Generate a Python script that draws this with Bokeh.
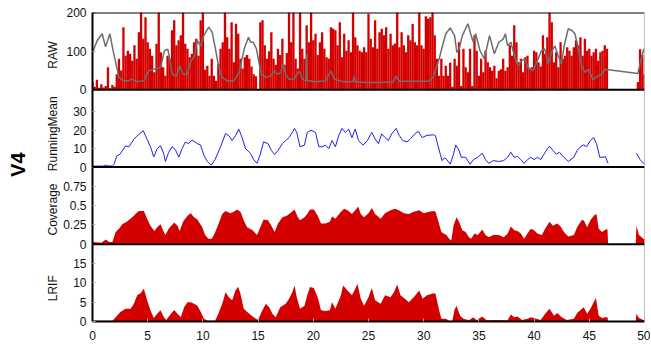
import numpy as np
from bokeh.plotting import figure
from bokeh.layouts import row
from bokeh.models import Range1d, FixedTicker, Span
from bokeh.embed import file_html
from bokeh.resources import INLINE
from bokeh.core.properties import value

FONT = "Liberation Sans"
RED = "#d40000"
GRAY = "#6e6e6e"
BLUE = "#1f1fee"

# ---------------- data ----------------
x_ticks = [0, 5, 10, 15, 20, 25, 30, 35, 40, 45, 50]
raw_ticks = [0, 100, 200]
rm_ticks = [0, 10, 20, 30]
cov_ticks = [0, 0.25, 0.5, 0.75]
cov_tick_labels = ["0", "0.25", "0.5", "0.75"]
lrif_ticks = [0, 5, 10, 15]
panel_names = ["RAW", "RunningMean", "Coverage", "LRIF"]
sample_name = "V4"

# RAW read counts, one bar every 0.2 from 0.0 to 46.6
raw_top = [
    20, 8, 26, 5, 14, 6, 10, 58, 4, 12,
    8, 40, 80, 50, 162, 88, 101, 93, 75, 115,
    80, 149, 200, 132, 188, 123, 106, 88, 45, 119,
    200, 97, 58, 36, 88, 80, 154, 180, 115, 128,
    141, 200, 119, 106, 84, 93, 123, 132, 88, 180,
    200, 52, 62, 36, 80, 36, 23, 67, 106, 123,
    200, 136, 106, 175, 71, 171, 145, 80, 55, 84,
    90, 80, 60, 40, 35, 0, 175, 180, 115, 80,
    100, 149, 80, 65, 106, 90, 132, 65, 95, 200,
    123, 200, 80, 55, 200, 106, 80, 167, 123, 200,
    128, 145, 90, 123, 149, 106, 84, 80, 162, 158,
    154, 115, 175, 84, 145, 101, 128, 97, 200, 136,
    115, 101, 97, 110, 97, 197, 132, 110, 180, 106,
    149, 158, 141, 162, 106, 145, 115, 120, 200, 110,
    149, 115, 97, 141, 128, 170, 123, 115, 200, 115,
    106, 190, 184, 188, 200, 141, 80, 36, 80, 36,
    62, 36, 70, 8, 80, 62, 123, 10, 106, 58,
    45, 106, 10, 141, 101, 36, 80, 45, 101, 71,
    58, 49, 62, 30, 49, 53, 80, 49, 58, 115,
    88, 167, 123, 71, 80, 45, 84, 88, 53, 58,
    101, 97, 71, 60, 141, 93, 136, 200, 175, 71,
    97, 58, 123, 80, 88, 110, 101, 88, 110, 128,
    115, 136, 88, 132, 101, 106, 88, 97, 106, 75,
    97, 101, 115, 106,
]
raw_tail_x = [49.4, 49.6, 49.8, 50.0]
raw_tail_top = [20, 105, 90, 40]

raw_mean_pts = [
    (0.0, 97), (0.42, 127), (0.88, 145), (1.18, 111), (1.57, 145), (1.87, 101),
    (2.17, 62), (2.39, 32), (2.84, 23), (3.3, 23), (3.5, 28), (4.05, 21),
    (4.65, 23), (5.1, 49), (5.55, 53), (6.16, 58), (6.52, 101), (6.82, 105),
    (7.0, 80), (7.22, 40), (7.6, 36), (7.9, 62), (8.2, 40), (8.57, 40),
    (8.88, 71), (9.24, 88), (9.48, 127), (9.78, 114), (10.08, 140), (10.53, 162),
    (10.84, 149), (11.14, 105), (11.44, 58), (11.74, 32), (12.2, 23), (12.8, 23),
    (13.28, 45), (13.74, 106), (14.13, 136), (14.33, 123), (14.55, 123), (14.85, 106),
    (15.1, 67), (15.3, 40), (15.7, 32), (16.15, 36), (16.45, 49), (16.75, 40),
    (17.05, 45), (17.27, 67), (17.5, 40), (17.8, 27), (18.26, 27), (18.72, 49),
    (19.02, 27), (19.35, 23), (19.4, 92), (19.45, 23), (19.62, 23), (20.2, 21),
    (21.1, 23), (21.6, 49), (21.9, 27), (22.7, 21), (23.6, 21), (23.7, 36),
    (23.8, 21), (24.8, 19), (25.8, 19), (27.2, 20), (27.5, 35), (27.8, 22),
    (28.5, 22), (30.5, 22), (30.9, 35), (31.1, 53), (31.4, 80), (31.7, 114),
    (32.0, 145), (32.4, 160), (32.8, 140), (33.0, 97), (33.2, 106), (33.5, 140),
    (34.0, 171), (34.3, 140), (34.5, 123), (34.7, 145), (35.1, 101), (35.5, 80),
    (35.96, 140), (36.4, 93), (36.8, 123), (37.2, 131), (37.4, 145), (37.6, 114),
    (37.9, 123), (38.25, 84), (38.55, 62), (38.85, 75), (39.15, 80), (39.46, 58),
    (39.9, 49), (40.36, 80), (40.67, 101), (40.97, 106), (41.27, 67), (41.58, 97),
    (41.88, 114), (42.18, 88), (42.48, 67), (42.7, 110), (43.09, 158), (43.4, 154),
    (43.7, 145), (44.0, 106), (44.3, 62), (44.6, 45), (44.9, 53), (45.35, 27),
    (45.8, 36), (46.1, 40), (46.4, 53), (49.4, 42), (49.7, 80), (49.95, 106),
]

running_mean_pts = [
    (0.0, 0.5), (1.0, 0.5), (1.2, 1.0), (1.4, 0.6), (1.8, 0.5), (1.95, 1.5),
    (2.2, 6), (2.5, 7), (2.99, 11.5), (3.3, 11), (3.75, 15.1), (4.2, 17.8),
    (4.6, 19.7), (4.95, 15), (5.25, 11), (5.55, 5.5), (5.86, 10), (6.16, 11.5),
    (6.46, 7), (6.6, 3), (6.9, 8), (7.2, 11), (7.5, 9.5), (7.82, 5.3),
    (8.12, 10), (8.4, 13.5), (8.7, 12.7), (9.0, 14.7), (9.5, 12.7), (9.78, 12),
    (10.08, 6.5), (10.4, 3), (10.75, 1), (11.1, 4), (11.6, 11), (12.05, 18.2),
    (12.35, 17), (12.65, 14.4), (12.95, 17), (13.25, 20.6), (13.55, 16), (13.86, 10),
    (14.3, 7.5), (14.6, 4), (14.9, 2), (15.2, 7), (15.5, 13.7), (15.9, 12.7),
    (16.2, 9), (16.5, 6.8), (16.8, 9), (17.2, 12.7), (17.5, 14.4), (17.8, 16),
    (18.1, 18.8), (18.3, 21), (18.5, 18.8), (18.8, 11), (19.2, 11.9), (19.45, 18.8),
    (19.8, 20), (20.2, 18.8), (20.5, 11), (20.8, 11), (21.1, 11.9), (21.4, 10),
    (21.7, 14.4), (22.0, 11), (22.3, 17), (22.6, 21), (22.9, 18.8), (23.2, 20.6),
    (23.5, 16), (23.8, 20.6), (24.1, 14.4), (24.5, 11.9), (24.9, 14.4), (25.3, 18.8),
    (25.6, 15.3), (25.9, 12.7), (26.2, 18), (26.5, 16), (26.8, 14.4), (27.1, 18),
    (27.5, 21), (27.8, 17), (28.1, 14.4), (28.5, 13.7), (28.8, 15.3), (29.2, 18),
    (29.5, 19.4), (29.86, 16), (30.3, 17.2), (30.9, 17.5), (31.07, 17), (31.2, 13.7),
    (31.5, 7), (31.67, 3.5), (31.9, 5), (32.1, 4), (32.4, 1.5), (32.7, 7),
    (32.9, 12), (33.2, 9), (33.4, 5.3), (33.8, 5.3), (34.2, 1.5), (34.5, 4),
    (34.9, 5.3), (35.3, 7.5), (35.6, 4), (35.9, 2), (36.3, 3.5), (36.8, 3),
    (37.25, 3.5), (37.6, 5.3), (37.9, 8), (38.2, 5.3), (38.5, 5.7), (38.8, 4),
    (39.1, 2), (39.4, 4), (39.7, 5.3), (40.0, 4), (40.3, 5.3), (40.6, 4),
    (41.0, 8), (41.4, 11.3), (41.7, 9), (42.0, 7), (42.3, 8), (42.7, 5.3),
    (43.1, 3), (43.6, 5.3), (43.9, 9), (44.2, 11), (44.5, 12), (44.75, 11),
    (45.1, 14.4), (45.4, 16), (45.65, 12.7), (45.95, 5.3), (46.25, 5.3), (46.46, 5.7),
    (46.7, 2),
]
running_mean_tail = [(49.27, 7.5), (49.6, 4), (50.0, 1.5)]

coverage_pts = [
    (0.0, 0.03), (0.8, 0.02), (1.2, 0.06), (1.5, 0.03), (1.8, 0.03), (2.1, 0.16),
    (2.4, 0.2), (2.7, 0.26), (3.1, 0.29), (3.6, 0.35), (3.9, 0.39), (4.2, 0.43),
    (4.65, 0.43), (4.95, 0.33), (5.25, 0.24), (5.6, 0.17), (5.86, 0.22), (6.16, 0.26),
    (6.46, 0.16), (6.6, 0.12), (6.9, 0.2), (7.4, 0.28), (7.7, 0.24), (7.9, 0.17),
    (8.2, 0.29), (8.6, 0.37), (8.9, 0.4), (9.2, 0.35), (9.5, 0.32), (9.94, 0.22),
    (10.2, 0.12), (10.5, 0.07), (10.8, 0.07), (11.0, 0.12), (11.3, 0.22), (11.75, 0.39),
    (12.05, 0.43), (12.5, 0.4), (12.8, 0.42), (13.1, 0.45), (13.4, 0.42), (13.7, 0.31),
    (14.0, 0.22), (14.5, 0.18), (14.9, 0.12), (15.2, 0.22), (15.5, 0.32), (15.9, 0.31),
    (16.2, 0.24), (16.5, 0.16), (16.8, 0.27), (17.2, 0.35), (17.6, 0.37), (17.9, 0.4),
    (18.3, 0.45), (18.6, 0.35), (18.8, 0.31), (19.2, 0.35), (19.45, 0.39), (19.7, 0.45),
    (20.05, 0.45), (20.4, 0.37), (20.7, 0.27), (21.1, 0.27), (21.5, 0.29), (21.7, 0.36),
    (22.0, 0.33), (22.5, 0.42), (22.8, 0.46), (23.1, 0.44), (23.5, 0.39), (23.8, 0.44),
    (24.06, 0.49), (24.3, 0.39), (24.6, 0.35), (25.0, 0.4), (25.3, 0.47), (25.6, 0.39),
    (26.1, 0.33), (26.5, 0.4), (27.0, 0.44), (27.4, 0.46), (27.75, 0.44), (28.2, 0.4),
    (28.65, 0.39), (29.1, 0.42), (29.6, 0.44), (30.0, 0.4), (30.5, 0.42), (30.9, 0.43),
    (31.07, 0.42), (31.3, 0.31), (31.6, 0.16), (31.8, 0.14), (32.06, 0.12), (32.3, 0.07),
    (32.5, 0.05), (32.7, 0.24), (32.97, 0.35), (33.2, 0.29), (33.5, 0.18), (33.8, 0.16),
    (34.1, 0.09), (34.3, 0.07), (34.6, 0.14), (34.9, 0.12), (35.3, 0.19), (35.6, 0.12),
    (35.9, 0.09), (36.3, 0.12), (36.8, 0.12), (37.25, 0.09), (37.6, 0.14), (37.9, 0.23),
    (38.2, 0.18), (38.5, 0.17), (38.8, 0.14), (39.1, 0.07), (39.4, 0.14), (39.7, 0.2),
    (40.0, 0.18), (40.3, 0.14), (40.7, 0.12), (41.0, 0.2), (41.4, 0.29), (41.7, 0.24),
    (42.1, 0.27), (42.4, 0.23), (42.7, 0.16), (43.1, 0.1), (43.6, 0.12), (43.9, 0.22),
    (44.3, 0.31), (44.5, 0.31), (44.8, 0.22), (45.1, 0.31), (45.4, 0.37), (45.65, 0.39),
    (45.85, 0.2), (46.16, 0.16), (46.46, 0.19), (46.65, 0.19), (46.7, 0.0),
    (49.2, 0.0), (49.27, 0.24), (49.5, 0.12), (49.9, 0.07), (50.0, 0.06),
]

lrif_pts = [
    (0.0, 0.2), (1.8, 0.2), (2.1, 1.1), (2.5, 2.4), (2.99, 3.3), (3.45, 3.3),
    (3.75, 4.6), (4.05, 6.8), (4.35, 7.3), (4.65, 8.5), (4.95, 5.5), (5.25, 2.9),
    (5.55, 0.9), (5.86, 2), (6.16, 2.9), (6.46, 1.1), (6.67, 0.4), (7.06, 1.8),
    (7.4, 3), (7.7, 2), (8.0, 1.1), (8.3, 3.7), (8.6, 5), (8.9, 5),
    (9.2, 4.6), (9.5, 4.1), (9.8, 2.5), (10.1, 0.7), (10.4, 0.2), (11.1, 0.2),
    (11.4, 2), (11.75, 4.6), (12.05, 7.6), (12.35, 6.3), (12.65, 5.5), (12.95, 8),
    (13.2, 9), (13.4, 7.2), (13.7, 3.3), (14.2, 2), (14.6, 1.1), (15.0, 0.4),
    (15.3, 2.4), (15.7, 4.6), (16.0, 3.7), (16.3, 2), (16.6, 1.1), (17.0, 3.7),
    (17.5, 4.6), (17.8, 5.9), (18.1, 7.6), (18.3, 9.3), (18.5, 6.3), (18.8, 3.3),
    (19.2, 4.1), (19.45, 6.8), (19.7, 8.9), (20.05, 8.7), (20.4, 6.3), (20.7, 2.9),
    (21.1, 2.7), (21.5, 2.9), (21.7, 5), (22.0, 3.3), (22.5, 6.8), (22.7, 9.3),
    (23.1, 8), (23.5, 6.8), (23.8, 8.5), (24.0, 9.8), (24.3, 5.9), (24.6, 4.1),
    (25.0, 6.3), (25.3, 8.7), (25.6, 5.5), (26.1, 4.6), (26.5, 6.8), (27.0, 6.3),
    (27.3, 7.6), (27.6, 9.6), (27.9, 6.8), (28.3, 5.9), (28.65, 5), (29.1, 6.3),
    (29.6, 8), (29.9, 5.9), (30.3, 6.8), (30.9, 7.3), (31.07, 7.2), (31.4, 2.9),
    (31.6, 0.7), (32.0, 0.7), (32.3, 0.2), (32.6, 0.2), (32.78, 2.9), (32.97, 4.1),
    (33.3, 1.5), (33.6, 0.7), (34.1, 0.3), (34.5, 1.1), (34.8, 0.3), (35.3, 1.3),
    (35.7, 0.3), (36.5, 0.4), (37.6, 0.3), (37.9, 1.8), (38.2, 1.1), (38.5, 1.3),
    (38.9, 0.4), (39.4, 0.7), (39.7, 1.1), (40.2, 0.7), (40.6, 0.4), (41.0, 2),
    (41.4, 3.3), (41.8, 1.5), (42.1, 2.2), (42.5, 1.1), (42.96, 0.4), (43.6, 0.7),
    (43.9, 2.2), (44.2, 3), (44.5, 3.7), (44.8, 2), (45.1, 3.3), (45.4, 5),
    (45.6, 6.1), (45.85, 1.5), (46.16, 0.9), (46.46, 1.1), (46.65, 1.1), (46.7, 0.0),
    (49.2, 0.0), (49.27, 2), (49.5, 0.9), (49.9, 0.4), (50.0, 0.3),
]

# ---------------- one frame, four stacked panels ----------------
# each panel gets one unit of the base y range; its own scale maps values into it
panel_max = {"raw": 200, "rm": 42, "cov": 1.0, "lrif": 20}
panel_slot = {"raw": 3, "rm": 2, "cov": 1, "lrif": 0}

LEFT_W = 60      # width of the strip holding the rotated titles
TOP = 12
FRAME_H = 309
BOTTOM = 24


def panel_range(key):
    span = panel_max[key]
    slot = panel_slot[key]
    return Range1d(-slot * span, (4 - slot) * span)


p = figure(x_range=Range1d(0, 50), y_range=Range1d(0, 4),
           frame_width=552, frame_height=FRAME_H,
           output_backend="svg", toolbar_location=None,
           min_border_left=92 - LEFT_W, min_border_right=6, min_border_top=TOP,
           min_border_bottom=BOTTOM)
p.extra_y_ranges = {k: panel_range(k) for k in panel_max}
p.grid.visible = False
p.outline_line_color = None
p.background_fill_color = "white"
p.border_fill_color = "white"

# y ticks: positions on the base axis for each panel's tick values
tick_pos, tick_txt = [], []
for key, ticks, labels in [
    ("lrif", lrif_ticks, [str(t) for t in lrif_ticks]),
    ("cov", cov_ticks, cov_tick_labels),
    ("rm", rm_ticks, [str(t) for t in rm_ticks]),
    ("raw", raw_ticks, [str(t) for t in raw_ticks]),
]:
    for t, s in zip(ticks, labels):
        pos = panel_slot[key] + t / panel_max[key]
        tick_pos.append(pos)
        tick_txt.append(s)

ya = p.yaxis[0]
ya.ticker = FixedTicker(ticks=tick_pos)
ya.major_label_overrides = {pos: s for pos, s in zip(tick_pos, tick_txt)}
ya.axis_line_color = "black"
ya.axis_line_width = 2
ya.major_tick_in = 3
ya.major_tick_out = 0
ya.major_tick_line_color = "#aaaaaa"
ya.minor_tick_line_color = None
ya.major_label_standoff = 6
ya.major_label_text_font = FONT
ya.major_label_text_font_size = "12px"
ya.major_label_text_color = "#111111"

xa = p.xaxis[0]
xa.ticker = FixedTicker(ticks=x_ticks)
xa.axis_line_color = "black"
xa.axis_line_width = 2
xa.major_tick_in = 3
xa.major_tick_out = 0
xa.major_tick_line_color = "#aaaaaa"
xa.minor_tick_line_color = None
xa.major_label_standoff = 9
xa.major_label_text_font = FONT
xa.major_label_text_font_size = "12px"
xa.major_label_text_color = "#111111"

# top border, thin grey right border and the panel separators
p.add_layout(Span(location=4, dimension="width", line_color="black", line_width=2))
p.add_layout(Span(location=50, dimension="height", line_color="#888888", line_width=1))
for k in (1, 2, 3):
    p.add_layout(Span(location=k, dimension="width", line_color="black", line_width=2))

# RAW panel
raw_x = np.round(np.arange(len(raw_top)) * 0.2, 1)
p.vbar(x=raw_x, top=raw_top, width=0.21, bottom=0, fill_color=RED, line_color=None,
       y_range_name="raw")
p.vbar(x=raw_tail_x, top=raw_tail_top, width=0.21, bottom=0, fill_color=RED, line_color=None,
       y_range_name="raw")
gx = [a for a, b in raw_mean_pts]
gy = [b for a, b in raw_mean_pts]
p.line(gx, gy, line_color=GRAY, line_width=1.5, y_range_name="raw")

# RunningMean panel
rx = [a for a, b in running_mean_pts] + [float("nan")] + [a for a, b in running_mean_tail]
ry = [b for a, b in running_mean_pts] + [float("nan")] + [b for a, b in running_mean_tail]
p.line(rx, ry, line_color=BLUE, line_width=1.0, y_range_name="rm")

# Coverage panel
cx = [a for a, b in coverage_pts]
cy = [b for a, b in coverage_pts]
p.varea(x=cx, y1=[0] * len(cx), y2=cy, fill_color=RED, y_range_name="cov")

# LRIF panel
lx = [a for a, b in lrif_pts]
ly = [b for a, b in lrif_pts]
p.varea(x=lx, y1=[0] * len(lx), y2=ly, fill_color=RED, y_range_name="lrif")

# ---------------- left strip: sample name and panel titles ----------------
side = figure(x_range=Range1d(0, LEFT_W), y_range=Range1d(0, 4),
              frame_width=LEFT_W, frame_height=FRAME_H,
              output_backend="svg", toolbar_location=None,
              min_border_left=0, min_border_right=0, min_border_top=TOP,
              min_border_bottom=BOTTOM)
side.axis.visible = False
side.grid.visible = False
side.outline_line_color = None
side.background_fill_color = "white"
side.border_fill_color = "white"

title_y = [3.45, 2.43, 1.45, 0.43]
side.text(x=[52] * 4, y=title_y, text=panel_names, angle=np.pi / 2,
          text_font=value(FONT), text_font_size=value("12px"),
          text_align="center", text_baseline="middle", text_color="#111111")
side.text(x=[17.5], y=[2.03], text=[sample_name], angle=np.pi / 2,
          text_font=value(FONT), text_font_size=value("20px"), text_font_style="bold",
          text_align="center", text_baseline="middle", text_color="#000000")

layout = row(side, p)
open("out.html", "w").write(file_html(layout, INLINE))
